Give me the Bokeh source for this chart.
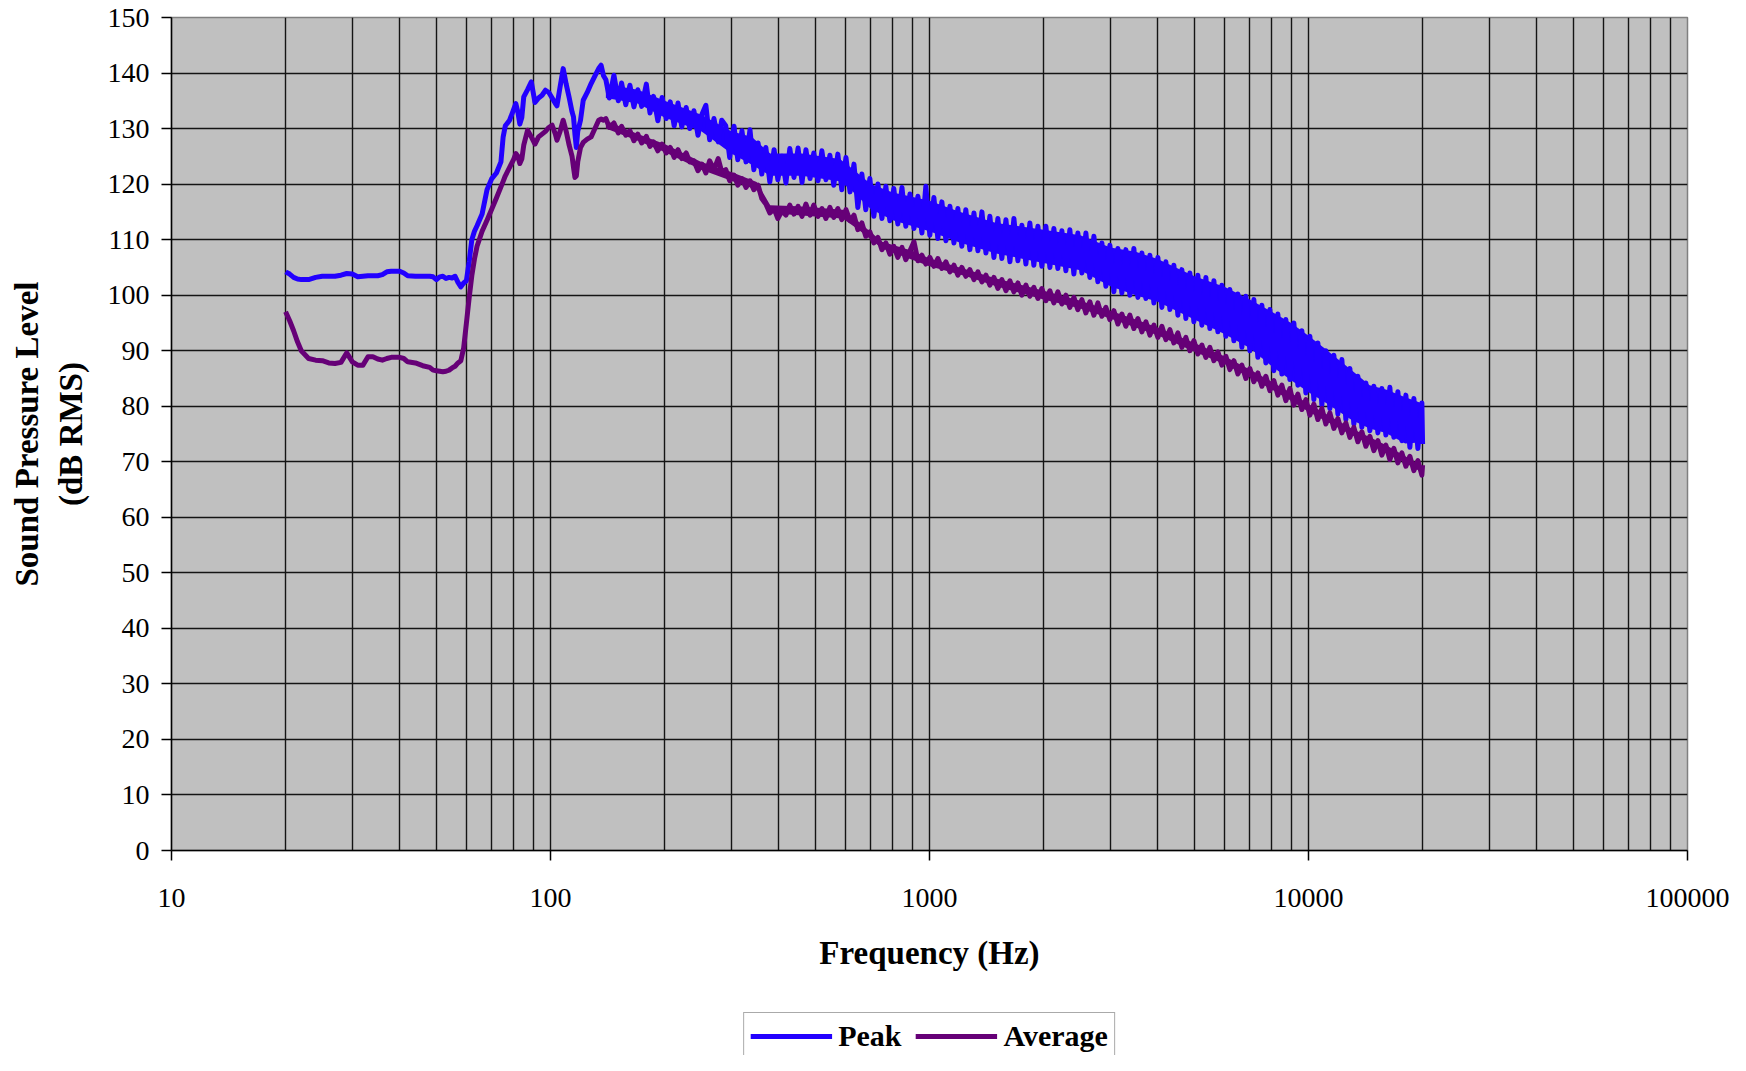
from bokeh.plotting import figure
from bokeh.layouts import column
from bokeh.models import FixedTicker, PrintfTickFormatter, Legend, LegendItem, Range1d
from bokeh.embed import file_html
from bokeh.resources import INLINE

# ---------------- data ----------------
freq_hz = [
    # low-frequency part
    20, 20.5, 21, 21.5, 22, 23, 24, 25, 26, 27,
    28, 29, 30, 31, 32, 33, 34, 35, 36, 37,
    38, 40, 41, 42, 44, 46, 48, 49, 50, 51,
    52, 53, 54, 55, 56, 57, 58, 59, 60, 61,
    62, 63, 64, 66, 68, 70, 72, 74, 75, 76,
    78, 80, 81, 82, 83, 84, 85, 87, 89, 91,
    93, 95, 97, 99, 101, 103, 104, 106, 108, 110,
    112, 114, 115, 116, 117, 118, 120, 122, 125, 128,
    131, 134, 136, 138,
    # dense part
    140, 143, 147, 151, 154, 158, 162, 166, 170, 174,
    179, 183, 187, 192, 197, 202, 207, 212, 217, 222,
    228, 233, 239, 245, 251, 257, 263, 270, 277, 283,
    290, 297, 305, 312, 320, 328, 336, 344, 353, 361,
    370, 379, 389, 398, 408, 418, 428, 439, 450, 461,
    472, 484, 495, 508, 520, 533, 546, 559, 573, 587,
    602, 617, 632, 647, 663, 679, 696, 713, 731, 749,
    767, 786, 805, 825, 846, 866, 888, 910, 932, 955,
    978, 1002, 1027, 1052, 1078, 1105, 1132, 1160, 1188, 1217,
    1247, 1278, 1310, 1342, 1375, 1409, 1443, 1479, 1515, 1552,
    1591, 1630, 1670, 1711, 1753, 1796, 1840, 1885, 1932, 1979,
    2028, 2078, 2129, 2181, 2235, 2290, 2346, 2404, 2463, 2524,
    2586, 2649, 2715, 2781, 2850, 2920, 2992, 3065, 3141, 3218,
    3297, 3378, 3461, 3547, 3634, 3723, 3815, 3909, 4005, 4103,
    4204, 4308, 4413, 4522, 4633, 4747, 4864, 4984, 5106, 5232,
    5361, 5492, 5628, 5766, 5908, 6053, 6202, 6355, 6511, 6671,
    6835, 7003, 7175, 7352, 7533, 7718, 7908, 8102, 8302, 8506,
    8715, 8930, 9149, 9374, 9605, 9841, 10083, 10331, 10586, 10846,
    11113, 11386, 11666, 11953, 12247, 12548, 12857, 13173, 13497, 13829,
    14170, 14518, 14875, 15241, 15616, 16000, 16394, 16797, 17210, 17634,
    18067, 18512, 18967, 19434, 19912, 20000,
]

peak_db = [
    104.2, 103.8, 103.2, 102.9, 102.8, 102.8, 103.2, 103.4, 103.4, 103.4,
    103.6, 103.9, 103.8, 103.3, 103.4, 103.5, 103.5, 103.5, 103.7, 104.2,
    104.3, 104.3, 104.0, 103.5, 103.4, 103.4, 103.4, 103.3, 102.8, 103.3,
    103.4, 103.0, 103.2, 103.1, 103.4, 102.3, 101.5, 102.2, 102.6, 106.0,
    110.0, 111.5, 112.5, 114.6, 119.0, 121.0, 122.0, 124.0, 128.5, 130.5,
    131.5, 133.5, 134.5, 133.0, 130.8, 132.0, 135.7, 137.0, 138.4, 134.7,
    135.5, 136.0, 136.9, 136.5, 135.5, 134.5, 134.1, 137.5, 140.8, 138.0,
    135.6, 133.0, 132.1, 129.0, 126.6, 129.5, 131.5, 135.1, 136.5, 138.1,
    139.5, 140.8, 141.4, 139.5,
    # dense part
    138.8, 135.5, 139.6, 135.0, 138.2, 134.3, 137.8, 133.9, 137.0, 134.0,
    138.0, 132.8, 135.8, 131.4, 135.6, 131.8, 134.8, 130.5, 134.6, 130.3,
    133.8, 130.0, 133.2, 128.8, 132.6, 134.2, 128.0, 131.8, 127.6, 131.5,
    130.5, 124.8, 130.4, 124.4, 129.6, 124.0, 129.8, 122.6, 127.4, 121.8,
    126.6, 120.4, 126.2, 120.8, 125.0, 120.2, 126.4, 121.2, 126.5, 120.3,
    126.2, 121.0, 125.6, 120.6, 126.0, 120.8, 125.2, 119.8, 125.4, 119.0,
    124.8, 118.6, 123.6, 115.8, 121.8, 115.4, 121.0, 114.2, 120.0, 113.8,
    119.6, 113.4, 119.2, 112.8, 119.4, 112.4, 118.2, 112.0, 117.8, 111.2,
    119.6, 110.8, 117.6, 110.2, 116.8, 109.8, 116.0, 109.4, 115.6, 108.8,
    115.4, 108.2, 114.8, 108.0, 115.0, 107.6, 114.2, 106.8, 113.8, 106.6,
    113.6, 106.0, 113.8, 106.2, 112.6, 105.6, 113.0, 105.4, 112.4, 105.2,
    112.4, 105.0, 112.0, 104.8, 111.6, 104.4, 111.8, 103.8, 111.2, 104.0,
    111.2, 103.2, 110.6, 102.4, 109.4, 101.6, 109.0, 100.6, 108.4, 100.4,
    108.2, 100.0, 108.4, 99.6, 107.6, 99.4, 107.2, 98.6, 106.8, 97.8,
    106.0, 97.4, 105.4, 96.4, 104.6, 95.8, 104.0, 95.2, 103.6, 94.6,
    103.2, 94.0, 102.6, 93.4, 101.8, 92.6, 101.0, 91.8, 100.2, 90.6,
    99.8, 90.0, 99.2, 88.8, 98.2, 87.8, 97.4, 86.4, 96.6, 85.8,
    95.6, 84.8, 95.0, 83.8, 93.6, 82.4, 92.6, 81.2, 91.4, 80.2,
    90.0, 79.6, 89.2, 78.6, 88.4, 77.6, 86.8, 76.8, 85.4, 76.2,
    84.2, 75.6, 83.6, 75.2, 83.2, 74.8, 83.4, 74.4, 82.6, 73.8,
    82.0, 72.6, 81.4, 72.4, 80.6, 73.2,
]

average_db = [
    97.0, 95.4, 93.6, 91.6, 90.0, 88.6, 88.3, 88.2, 87.8, 87.7,
    87.9, 89.6, 88.0, 87.4, 87.4, 88.9, 88.9, 88.5, 88.3, 88.6,
    88.8, 88.8, 88.6, 88.0, 87.8, 87.3, 87.0, 86.5, 86.4, 86.3,
    86.2, 86.3, 86.5, 86.9, 87.2, 87.8, 88.2, 90.5, 95.0, 99.5,
    103.5, 106.5, 108.8, 111.5, 113.5, 115.5, 117.5, 119.5, 120.5, 121.5,
    123.0, 124.5, 125.5, 125.0, 123.7, 124.5, 127.0, 129.7, 128.5, 127.2,
    128.5, 129.0, 129.5, 130.2, 130.6, 129.0, 127.9, 129.5, 131.5, 129.5,
    127.0, 125.0, 123.0, 121.2, 121.5, 124.0, 126.6, 127.5, 128.1, 128.5,
    130.0, 131.5, 131.7, 131.5,
    # dense part
    131.8, 130.2, 131.0, 129.2, 130.4, 128.8, 129.6, 127.8, 129.0, 127.4,
    128.6, 126.8, 127.6, 126.0, 127.2, 125.6, 126.6, 124.8, 126.2, 124.6,
    125.6, 124.0, 124.2, 122.4, 123.6, 122.0, 124.2, 122.6, 124.6, 122.2,
    122.6, 120.6, 121.6, 119.8, 121.0, 119.4, 120.6, 119.0, 119.8, 117.4,
    116.4, 114.8, 115.6, 113.8, 115.2, 114.4, 116.2, 114.6, 116.0, 114.2,
    116.4, 114.4, 116.2, 114.2, 115.6, 113.8, 115.8, 114.0, 115.6, 113.6,
    115.4, 113.4, 114.4, 111.8, 113.0, 110.6, 111.4, 109.4, 110.4, 108.2,
    109.4, 107.4, 108.8, 106.8, 108.6, 106.4, 108.0, 109.6, 106.2, 107.2,
    105.6, 106.8, 105.2, 106.6, 104.8, 106.0, 104.2, 105.4, 103.6, 105.0,
    103.4, 104.6, 102.8, 104.2, 102.4, 103.6, 101.8, 103.2, 101.2, 102.8,
    100.8, 102.6, 100.6, 102.2, 100.0, 101.8, 99.8, 101.4, 99.4, 101.2,
    99.0, 100.8, 98.6, 100.6, 98.4, 100.0, 97.8, 99.6, 97.4, 99.2,
    96.8, 98.8, 96.4, 98.6, 96.2, 97.8, 95.6, 97.2, 94.8, 96.6,
    94.4, 96.4, 94.0, 95.8, 93.4, 95.2, 92.8, 94.6, 92.4, 94.4,
    92.0, 93.8, 91.4, 93.2, 90.6, 92.4, 90.0, 91.8, 89.4, 91.0,
    88.8, 90.6, 88.2, 89.8, 87.4, 89.0, 86.6, 88.2, 85.8, 87.4,
    85.0, 86.8, 84.4, 86.0, 83.6, 85.4, 82.8, 84.6, 82.0, 83.8,
    81.0, 83.2, 80.2, 82.2, 79.4, 81.2, 78.4, 80.4, 77.6, 79.6,
    76.8, 78.8, 76.0, 77.8, 75.2, 77.0, 74.4, 76.2, 73.6, 75.4,
    72.8, 74.6, 72.0, 73.8, 71.2, 73.0, 70.4, 72.4, 69.8, 71.6,
    69.2, 71.0, 68.4, 70.2, 67.6, 69.4,
]

# inner body of the dense (noisy) part of each trace
peak_band_freq = [140, 170, 200, 250, 300, 340, 380, 460, 580, 620, 700, 800,
                  1000, 1200, 1500, 2000, 2500, 3000, 3500, 4000, 5000, 6000,
                  7000, 8000, 9000, 10000, 11000, 13000, 14500, 16000, 18000, 20000]
peak_band_low = [135.5, 134.5, 132.0, 129.5, 125.5, 123.5, 121.5, 121.5, 120.5, 119.0, 115.5, 113.5,
                 111.5, 109.5, 107.5, 105.8, 104.5, 101.6, 100.0, 98.8, 95.6, 93.0,
                 90.5, 87.2, 84.7, 82.5, 80.8, 77.5, 76.0, 75.2, 73.3, 73.5]
peak_band_high = [138.0, 137.0, 135.0, 132.5, 129.5, 128.5, 125.5, 125.5, 124.5, 123.0, 120.0, 118.5,
                  117.0, 115.0, 113.0, 111.8, 110.8, 108.6, 107.8, 106.5, 103.4, 101.5,
                  99.2, 97.0, 95.0, 92.7, 90.5, 86.5, 83.8, 83.0, 81.6, 80.5]

avg_band_freq = [140, 170, 200, 250, 300, 350, 380, 450, 590, 650, 750, 900,
                 1000, 1250, 1500, 2000, 2500, 3000, 3500, 4000, 5000, 6000,
                 7000, 8000, 9000, 10000, 13000, 16000, 20000]
avg_band_low = [130.0, 127.8, 125.8, 122.6, 120.6, 119.0, 114.8, 114.4, 113.8, 111.8, 108.4, 106.4,
                105.2, 103.4, 101.6, 99.2, 97.6, 95.8, 94.2, 92.8, 89.8, 87.6,
                85.2, 83.0, 81.0, 79.0, 74.8, 71.8, 68.0]
avg_band_high = [131.4, 129.0, 127.2, 124.0, 122.2, 120.4, 116.2, 116.0, 115.4, 113.2, 109.6, 108.0,
                 106.6, 104.6, 103.0, 100.8, 99.0, 97.2, 95.6, 94.2, 91.4, 89.0,
                 86.6, 84.4, 82.4, 80.4, 76.0, 73.0, 69.2]

series_names = ["Peak", "Average"]
series_colors = ["#2200FF", "#660077"]

x_major_ticks = [10, 100, 1000, 10000, 100000]
x_minor_ticks = [20, 30, 40, 50, 60, 70, 80, 90,
                 200, 300, 400, 500, 600, 700, 800, 900,
                 2000, 3000, 4000, 5000, 6000, 7000, 8000, 9000,
                 20000, 30000, 40000, 50000, 60000, 70000, 80000, 90000]
y_ticks = [0, 10, 20, 30, 40, 50, 60, 70, 80, 90, 100, 110, 120, 130, 140, 150]

x_title = "Frequency (Hz)"
y_title = "Sound Pressure Level\n(dB RMS)"

# ---------------- main chart ----------------
SERIF = "Liberation Serif"

p = figure(width=1730, height=1000, x_axis_type="log",
           x_range=Range1d(10, 100000), y_range=Range1d(0, 150),
           output_backend="svg", toolbar_location=None,
           min_border_left=171, min_border_right=43,
           min_border_top=17, min_border_bottom=150,
           background_fill_color="#C0C0C0", border_fill_color="white",
           outline_line_color="#808080", outline_line_width=1.5)

xt = FixedTicker(ticks=x_major_ticks, minor_ticks=x_minor_ticks)
yt = FixedTicker(ticks=y_ticks)
p.xaxis.ticker = xt
p.yaxis.ticker = yt
p.xgrid.ticker = xt
p.ygrid.ticker = yt
p.xaxis.formatter = PrintfTickFormatter(format="%d")

for g in (p.xgrid, p.ygrid):
    g.grid_line_color = "#141414"
    g.grid_line_width = 1.4
p.xgrid.minor_grid_line_color = "#141414"
p.xgrid.minor_grid_line_width = 1.4

for ax in (p.xaxis, p.yaxis):
    ax.axis_line_color = "black"
    ax.axis_line_width = 1.5
    ax.major_tick_line_color = "black"
    ax.major_tick_line_width = 1.5
    ax.major_tick_out = 10
    ax.major_tick_in = 0
    ax.minor_tick_line_color = None
    ax.major_label_text_font = SERIF
    ax.major_label_text_font_size = "28px"
    ax.major_label_text_color = "black"
    ax.axis_label_text_font = SERIF
    ax.axis_label_text_font_size = "33px"
    ax.axis_label_text_font_style = "bold"
    ax.axis_label_text_color = "black"

p.xaxis.axis_label = x_title
p.yaxis.axis_label = y_title
p.xaxis.major_label_standoff = 28
p.xaxis.axis_label_standoff = 25
p.yaxis.major_label_standoff = 12
p.yaxis.axis_label_standoff = 16
p.yaxis.axis_label_text_line_height = 1.2

p.varea(x=peak_band_freq, y1=peak_band_low, y2=peak_band_high, fill_color=series_colors[0])
p.line(freq_hz, peak_db, line_color=series_colors[0], line_width=5, line_join="round")
p.varea(x=avg_band_freq, y1=avg_band_low, y2=avg_band_high, fill_color=series_colors[1])
p.line(freq_hz, average_db, line_color=series_colors[1], line_width=5, line_join="round")

# ---------------- legend strip below the chart ----------------
q = figure(width=1730, height=55, x_range=Range1d(0, 1), y_range=Range1d(0, 1),
           output_backend="svg", toolbar_location=None,
           x_axis_location=None, y_axis_location=None,
           min_border_left=171, min_border_right=43, min_border_top=0, min_border_bottom=0,
           background_fill_color="white", border_fill_color="white",
           outline_line_color=None)
q.grid.visible = False
# legend keys only (kept outside the strip's visible range)
key_x = [2, 3]
key_y = [2, 2]
leg_peak = q.line(x=key_x, y=key_y, line_color=series_colors[0], line_width=5)
leg_avg = q.line(x=key_x, y=key_y, line_color=series_colors[1], line_width=5)

legend = Legend(items=[LegendItem(label=series_names[0], renderers=[leg_peak]),
                       LegendItem(label=series_names[1], renderers=[leg_avg])],
                orientation="horizontal", location="top_center",
                glyph_width=82, glyph_height=24, label_standoff=6, spacing=14,
                padding=6, margin=12,
                label_text_font=SERIF, label_text_font_size="30px",
                label_text_font_style="bold", label_text_color="black",
                border_line_color="#555555", border_line_width=1.5,
                background_fill_color="white", background_fill_alpha=1.0)
q.add_layout(legend, "center")

layout = column(p, q, spacing=0)
open("out.html", "w").write(file_html(layout, INLINE))
